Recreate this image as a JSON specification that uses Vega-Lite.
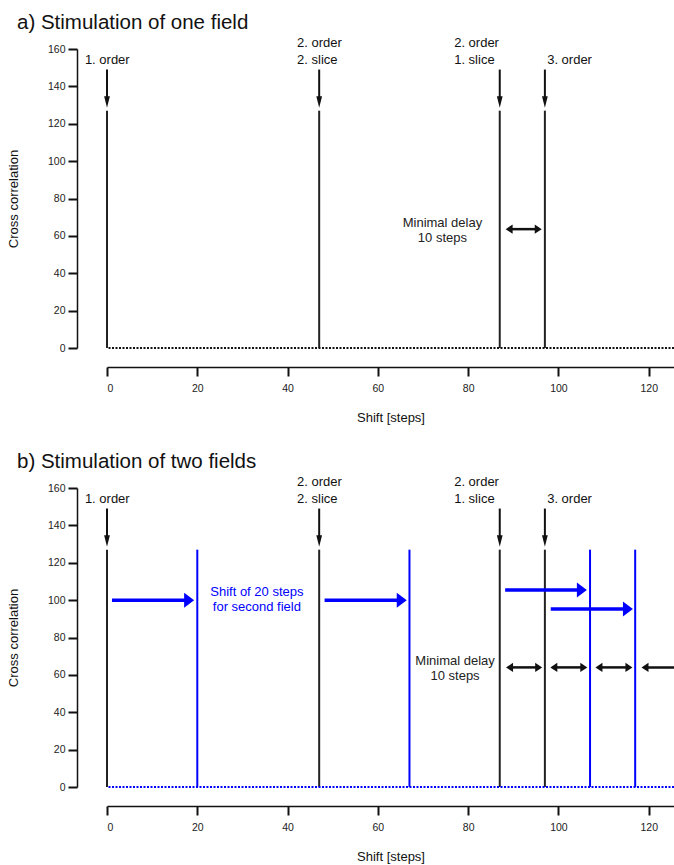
{
  "$schema": "https://vega.github.io/schema/vega-lite/v6.json",
  "background": "white",
  "padding": {"left": 7, "top": 12, "right": 0, "bottom": 0},
  "spacing": 26,
  "config": {
    "view": {"stroke": null},
    "font": "Liberation Sans",
    "axis": {
      "grid": false,
      "domainColor": "#111",
      "domainWidth": 1.5,
      "tickColor": "#111",
      "tickWidth": 2,
      "tickSize": 9,
      "labelFont": "Liberation Sans",
      "labelFontSize": 10.5,
      "labelColor": "#222",
      "titleFont": "Liberation Sans",
      "titleFontSize": 13,
      "titleFontWeight": "normal",
      "titleColor": "#111"
    },
    "axisX": {"offset": 19, "labelPadding": 7, "titlePadding": 18, "tickCount": 7},
    "axisY": {"offset": 30, "labelPadding": 3, "titlePadding": 27, "tickCount": 8},
    "title": {"font": "Liberation Sans", "fontSize": 20.5, "fontWeight": "normal", "color": "#111", "anchor": "start", "baseline": "alphabetic", "frame": "group"}
  },
  "datasets": {
    "peaks": [
      {"panel": "a", "shift": 0, "corr": 127, "field": "first"},
      {"panel": "a", "shift": 47, "corr": 127, "field": "first"},
      {"panel": "a", "shift": 87, "corr": 127, "field": "first"},
      {"panel": "a", "shift": 97, "corr": 127, "field": "first"},
      {"panel": "b", "shift": 0, "corr": 127, "field": "first"},
      {"panel": "b", "shift": 47, "corr": 127, "field": "first"},
      {"panel": "b", "shift": 87, "corr": 127, "field": "first"},
      {"panel": "b", "shift": 97, "corr": 127, "field": "first"},
      {"panel": "b", "shift": 20, "corr": 127, "field": "second"},
      {"panel": "b", "shift": 67, "corr": 127, "field": "second"},
      {"panel": "b", "shift": 107, "corr": 127, "field": "second"},
      {"panel": "b", "shift": 117, "corr": 127, "field": "second"}
    ],
    "pointers": [
      {"shift": 0, "corr": 149, "corr_end": 128.6},
      {"shift": 47, "corr": 149, "corr_end": 128.6},
      {"shift": 87, "corr": 149, "corr_end": 128.6},
      {"shift": 97, "corr": 149, "corr_end": 128.6}
    ],
    "order_labels": [
      {"shift": -4.9, "corr": 154, "text": "1. order"},
      {"shift": 42.1, "corr": 163, "text": "2. order"},
      {"shift": 42.1, "corr": 154, "text": "2. slice"},
      {"shift": 76.9, "corr": 163, "text": "2. order"},
      {"shift": 76.9, "corr": 154, "text": "1. slice"},
      {"shift": 97.5, "corr": 154, "text": "3. order"}
    ],
    "notes": [
      {"panel": "a", "shift": 74.3, "corr": 67, "text": "Minimal delay", "field": "first"},
      {"panel": "a", "shift": 74.3, "corr": 58.6, "text": "10 steps", "field": "first"},
      {"panel": "b", "shift": 77.1, "corr": 67.6, "text": "Minimal delay", "field": "first"},
      {"panel": "b", "shift": 77.1, "corr": 59.6, "text": "10 steps", "field": "first"},
      {"panel": "b", "shift": 33.2, "corr": 104.3, "text": "Shift of 20 steps", "field": "second"},
      {"panel": "b", "shift": 33.2, "corr": 96.3, "text": "for second field", "field": "second"}
    ],
    "shift_arrows": [
      {"shift": 1.1, "shift_end": 19.3, "corr": 100},
      {"shift": 48.2, "shift_end": 66.4, "corr": 100},
      {"shift": 88.2, "shift_end": 106.3, "corr": 105.4},
      {"shift": 98.3, "shift_end": 116.5, "corr": 95.2}
    ],
    "delay_arrows": [
      {"panel": "a", "shift": 88.3, "shift_end": 96.3, "corr": 63.6},
      {"panel": "b", "shift": 88.4, "shift_end": 96.4, "corr": 64.0},
      {"panel": "b", "shift": 98.2, "shift_end": 106.4, "corr": 64.0},
      {"panel": "b", "shift": 108.2, "shift_end": 116.4, "corr": 64.0},
      {"panel": "b", "shift": 118.4, "shift_end": 127.5, "corr": 64.0}
    ]
  },
  "vconcat": [
    {
      "width": 567,
      "height": 299,
      "title": {"text": "a) Stimulation of one field", "dx": -90, "offset": 4},
      "layer": [
        {
          "data": {"name": "peaks"},
          "transform": [{"filter": "datum.panel === 'a'"}],
          "mark": {"type": "rule", "strokeWidth": 2},
          "encoding": {
            "x": {"field": "shift", "type": "quantitative", "title": "Shift [steps]", "scale": {"domain": [0, 125.6], "nice": false, "zero": false}},
            "y": {"field": "corr", "type": "quantitative", "title": "Cross correlation", "scale": {"domain": [0, 160], "nice": false}},
            "y2": {"datum": 0},
            "color": {"field": "field", "type": "nominal", "scale": {"domain": ["first", "second"], "range": ["#222222", "#0000ff"]}, "legend": null}
          }
        },
        {
          "data": {"values": [{}]},
          "mark": {"type": "rule", "strokeWidth": 2, "strokeDash": [2, 1.5], "color": "#111"},
          "encoding": {"y": {"datum": 0, "type": "quantitative", "title": "Cross correlation"}}
        },
        {
          "data": {"name": "pointers"},
          "mark": {"type": "rule", "strokeWidth": 2, "color": "#111", "y2Offset": -6},
          "encoding": {
            "x": {"field": "shift", "type": "quantitative", "title": "Shift [steps]"},
            "y": {"field": "corr", "type": "quantitative", "title": "Cross correlation"},
            "y2": {"field": "corr_end"}
          }
        },
        {
          "data": {"name": "pointers"},
          "mark": {"type": "point", "shape": "M-0.5,-2L0.5,-2L0,0Z", "size": 132, "filled": true, "opacity": 1, "color": "#111", "strokeWidth": 0},
          "encoding": {
            "x": {"field": "shift", "type": "quantitative", "title": "Shift [steps]"},
            "y": {"field": "corr_end", "type": "quantitative", "title": "Cross correlation"}
          }
        },
        {
          "data": {"name": "order_labels"},
          "mark": {"type": "text", "align": "left", "baseline": "middle", "fontSize": 13, "color": "#111"},
          "encoding": {
            "x": {"field": "shift", "type": "quantitative", "title": "Shift [steps]"},
            "y": {"field": "corr", "type": "quantitative", "title": "Cross correlation"},
            "text": {"field": "text"}
          }
        },
        {
          "data": {"name": "notes"},
          "transform": [{"filter": "datum.panel === 'a'"}],
          "mark": {"type": "text", "align": "center", "baseline": "middle", "fontSize": 13},
          "encoding": {
            "x": {"field": "shift", "type": "quantitative", "title": "Shift [steps]"},
            "y": {"field": "corr", "type": "quantitative", "title": "Cross correlation"},
            "text": {"field": "text"},
            "color": {"field": "field", "type": "nominal", "scale": {"domain": ["first", "second"], "range": ["#222222", "#0000ff"]}, "legend": null}
          }
        },
        {
          "data": {"name": "delay_arrows"},
          "transform": [{"filter": "datum.panel === 'a'"}],
          "mark": {"type": "rule", "strokeWidth": 2.5, "color": "#111", "xOffset": 4, "x2Offset": -4, "clip": true},
          "encoding": {
            "x": {"field": "shift", "type": "quantitative", "title": "Shift [steps]"},
            "x2": {"field": "shift_end"},
            "y": {"field": "corr", "type": "quantitative", "title": "Cross correlation"}
          }
        },
        {
          "data": {"name": "delay_arrows"},
          "transform": [{"filter": "datum.panel === 'a'"}],
          "mark": {"type": "point", "shape": "M2,-1.3L0,0L2,1.3Z", "size": 49, "filled": true, "opacity": 1, "color": "#111", "strokeWidth": 0, "clip": true},
          "encoding": {
            "x": {"field": "shift", "type": "quantitative", "title": "Shift [steps]"},
            "y": {"field": "corr", "type": "quantitative", "title": "Cross correlation"}
          }
        },
        {
          "data": {"name": "delay_arrows"},
          "transform": [{"filter": "datum.panel === 'a'"}],
          "mark": {"type": "point", "shape": "M-2,-1.3L0,0L-2,1.3Z", "size": 49, "filled": true, "opacity": 1, "color": "#111", "strokeWidth": 0, "clip": true},
          "encoding": {
            "x": {"field": "shift_end", "type": "quantitative", "title": "Shift [steps]"},
            "y": {"field": "corr", "type": "quantitative", "title": "Cross correlation"}
          }
        }
      ]
    },
    {
      "width": 567,
      "height": 299,
      "title": {"text": "b) Stimulation of two fields", "dx": -90, "offset": 4},
      "layer": [
        {
          "data": {"name": "peaks"},
          "transform": [{"filter": "datum.panel === 'b'"}],
          "mark": {"type": "rule", "strokeWidth": 2},
          "encoding": {
            "x": {"field": "shift", "type": "quantitative", "title": "Shift [steps]", "scale": {"domain": [0, 125.6], "nice": false, "zero": false}},
            "y": {"field": "corr", "type": "quantitative", "title": "Cross correlation", "scale": {"domain": [0, 160], "nice": false}},
            "y2": {"datum": 0},
            "color": {"field": "field", "type": "nominal", "scale": {"domain": ["first", "second"], "range": ["#222222", "#0000ff"]}, "legend": null}
          }
        },
        {
          "data": {"values": [{}]},
          "mark": {"type": "rule", "strokeWidth": 2, "strokeDash": [2, 1.5], "color": "#0000ff"},
          "encoding": {"y": {"datum": 0, "type": "quantitative", "title": "Cross correlation"}}
        },
        {
          "data": {"name": "pointers"},
          "mark": {"type": "rule", "strokeWidth": 2, "color": "#111", "y2Offset": -6},
          "encoding": {
            "x": {"field": "shift", "type": "quantitative", "title": "Shift [steps]"},
            "y": {"field": "corr", "type": "quantitative", "title": "Cross correlation"},
            "y2": {"field": "corr_end"}
          }
        },
        {
          "data": {"name": "pointers"},
          "mark": {"type": "point", "shape": "M-0.5,-2L0.5,-2L0,0Z", "size": 132, "filled": true, "opacity": 1, "color": "#111", "strokeWidth": 0},
          "encoding": {
            "x": {"field": "shift", "type": "quantitative", "title": "Shift [steps]"},
            "y": {"field": "corr_end", "type": "quantitative", "title": "Cross correlation"}
          }
        },
        {
          "data": {"name": "order_labels"},
          "mark": {"type": "text", "align": "left", "baseline": "middle", "fontSize": 13, "color": "#111"},
          "encoding": {
            "x": {"field": "shift", "type": "quantitative", "title": "Shift [steps]"},
            "y": {"field": "corr", "type": "quantitative", "title": "Cross correlation"},
            "text": {"field": "text"}
          }
        },
        {
          "data": {"name": "notes"},
          "transform": [{"filter": "datum.panel === 'b'"}],
          "mark": {"type": "text", "align": "center", "baseline": "middle", "fontSize": 13},
          "encoding": {
            "x": {"field": "shift", "type": "quantitative", "title": "Shift [steps]"},
            "y": {"field": "corr", "type": "quantitative", "title": "Cross correlation"},
            "text": {"field": "text"},
            "color": {"field": "field", "type": "nominal", "scale": {"domain": ["first", "second"], "range": ["#222222", "#0000ff"]}, "legend": null}
          }
        },
        {
          "data": {"name": "shift_arrows"},
          "mark": {"type": "rule", "strokeWidth": 3.5, "color": "#0000ff", "x2Offset": -6},
          "encoding": {
            "x": {"field": "shift", "type": "quantitative", "title": "Shift [steps]"},
            "x2": {"field": "shift_end"},
            "y": {"field": "corr", "type": "quantitative", "title": "Cross correlation"}
          }
        },
        {
          "data": {"name": "shift_arrows"},
          "mark": {"type": "point", "shape": "M-2,-1.5L0,0L-2,1.5Z", "size": 100, "filled": true, "opacity": 1, "color": "#0000ff", "strokeWidth": 0},
          "encoding": {
            "x": {"field": "shift_end", "type": "quantitative", "title": "Shift [steps]"},
            "y": {"field": "corr", "type": "quantitative", "title": "Cross correlation"}
          }
        },
        {
          "data": {"name": "delay_arrows"},
          "transform": [{"filter": "datum.panel === 'b'"}],
          "mark": {"type": "rule", "strokeWidth": 2.5, "color": "#111", "xOffset": 4, "x2Offset": -4, "clip": true},
          "encoding": {
            "x": {"field": "shift", "type": "quantitative", "title": "Shift [steps]"},
            "x2": {"field": "shift_end"},
            "y": {"field": "corr", "type": "quantitative", "title": "Cross correlation"}
          }
        },
        {
          "data": {"name": "delay_arrows"},
          "transform": [{"filter": "datum.panel === 'b'"}],
          "mark": {"type": "point", "shape": "M2,-1.3L0,0L2,1.3Z", "size": 49, "filled": true, "opacity": 1, "color": "#111", "strokeWidth": 0, "clip": true},
          "encoding": {
            "x": {"field": "shift", "type": "quantitative", "title": "Shift [steps]"},
            "y": {"field": "corr", "type": "quantitative", "title": "Cross correlation"}
          }
        },
        {
          "data": {"name": "delay_arrows"},
          "transform": [{"filter": "datum.panel === 'b'"}],
          "mark": {"type": "point", "shape": "M-2,-1.3L0,0L-2,1.3Z", "size": 49, "filled": true, "opacity": 1, "color": "#111", "strokeWidth": 0, "clip": true},
          "encoding": {
            "x": {"field": "shift_end", "type": "quantitative", "title": "Shift [steps]"},
            "y": {"field": "corr", "type": "quantitative", "title": "Cross correlation"}
          }
        }
      ]
    }
  ]
}
